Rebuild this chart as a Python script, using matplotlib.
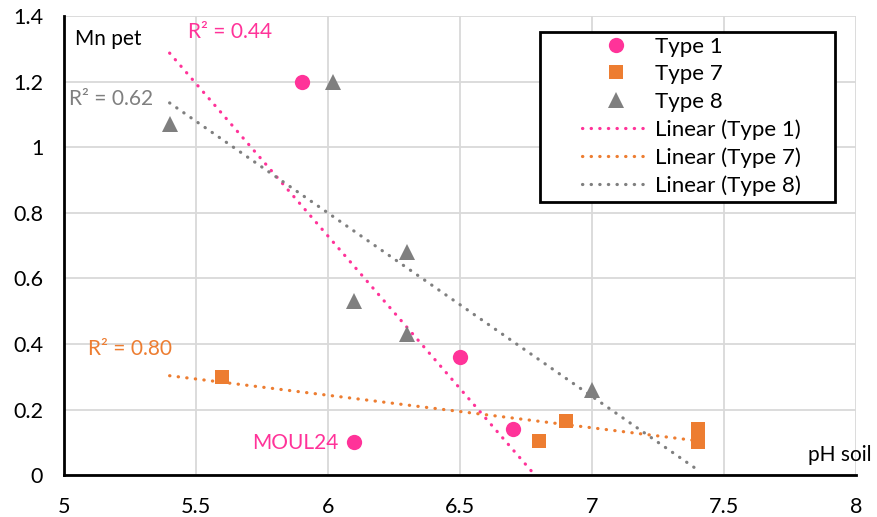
import numpy as np
import matplotlib
matplotlib.use("Agg")
import matplotlib.pyplot as plt
from matplotlib.lines import Line2D
from matplotlib.patches import Rectangle

plt.rcParams['font.family'] = ['Lato', 'DejaVu Sans']

# valeurs
type1_x = [5.9, 6.5, 6.7, 6.1]
type1_y = [1.2, 0.36, 0.14, 0.10]
type7_x = [5.6, 6.8, 6.9, 7.4, 7.4]
type7_y = [0.30, 0.105, 0.165, 0.141, 0.10]
type8_x = [5.4, 6.02, 6.3, 6.1, 6.3, 7.0]
type8_y = [1.07, 1.2, 0.68, 0.53, 0.43, 0.26]

x_ticks = [5, 5.5, 6, 6.5, 7, 7.5, 8]
y_ticks = [0, 0.2, 0.4, 0.6, 0.8, 1, 1.2, 1.4]

PINK = '#FF3399'
ORANGE = '#ED7D31'
GREY = '#7F7F7F'
DOTS = (0, (0.1, 2.6))

series = [
    ("Type 1", type1_x, type1_y, PINK, 'o', 11),
    ("Type 7", type7_x, type7_y, ORANGE, 's', 10.5),
    ("Type 8", type8_x, type8_y, GREY, '^', 12),
]

fig = plt.figure(figsize=(8.77, 5.17), dpi=100)
ax = fig.add_axes([0.073, 0.081, 0.903, 0.888])

all_x = type1_x + type7_x + type8_x
x_line = np.linspace(min(all_x), max(all_x), 100)

r2_vals = []
for name, xs, ys, col, mk, ms in series:
    xs = np.array(xs)
    ys = np.array(ys)
    a, b = np.polyfit(xs, ys, 1)
    pred = a * xs + b
    r2 = 1 - np.sum((ys - pred) ** 2) / np.sum((ys - ys.mean()) ** 2)
    r2_vals.append(r2)
    ax.plot(x_line, a * x_line + b, color=col, lw=2.3,
            linestyle=DOTS, dash_capstyle='round', zorder=2)
    ax.plot(xs, ys, linestyle='none', marker=mk, markersize=ms,
            color=col, markeredgewidth=0, zorder=3)

ax.set_xlim(5, 8)
ax.set_ylim(0, 1.4)
ax.set_xticks(x_ticks)
ax.set_xticklabels([f"{t:g}" for t in x_ticks])
ax.set_yticks(y_ticks)
ax.set_yticklabels([f"{t:g}" for t in y_ticks])
ax.grid(True, color='#D9D9D9', lw=1.3)
ax.set_axisbelow(True)
for s in ['top', 'right']:
    ax.spines[s].set_visible(False)
for s in ['left', 'bottom']:
    ax.spines[s].set_linewidth(2)
    ax.spines[s].set_color('black')
ax.tick_params(length=0, labelsize=15.5)
ax.tick_params(axis='y', pad=15)
ax.tick_params(axis='x', pad=15.5)

fs = 15
ax.text(5.47, 1.35, f"R² = {r2_vals[0]:.2f}", color=PINK, fontsize=fs, va='center')
ax.text(5.02, 1.147, f"R² = {r2_vals[2]:.2f}", color=GREY, fontsize=fs, va='center')
ax.text(5.09, 0.385, f"R² = {r2_vals[1]:.2f}", color=ORANGE, fontsize=fs, va='center')
ax.text(6.04, 0.098, "MOUL24", color=PINK, fontsize=fs, va='center', ha='right')
ax.text(5.04, 1.33, "Mn pet", color='black', fontsize=fs, va='center')
ax.text(7.82, 0.06, "pH soil", color='black', fontsize=fs, va='center', clip_on=False)

handles = [
    Line2D([], [], linestyle='none', marker='o', markersize=11, color=PINK, markeredgewidth=0),
    Line2D([], [], linestyle='none', marker='s', markersize=10.5, color=ORANGE, markeredgewidth=0),
    Line2D([], [], linestyle='none', marker='^', markersize=12, color=GREY, markeredgewidth=0),
    Line2D([], [], color=PINK, lw=2.3, linestyle=DOTS, dash_capstyle='round'),
    Line2D([], [], color=ORANGE, lw=2.3, linestyle=DOTS, dash_capstyle='round'),
    Line2D([], [], color=GREY, lw=2.3, linestyle=DOTS, dash_capstyle='round'),
]
labels = ["Type 1", "Type 7", "Type 8", "Linear (Type 1)", "Linear (Type 7)", "Linear (Type 8)"]
ax.legend(handles, labels, loc='upper left', bbox_to_anchor=(0.654, 0.955),
          fontsize=16, frameon=False, handlelength=3.1, handletextpad=0.2,
          labelspacing=0.34, borderpad=0, borderaxespad=0)
ax.add_patch(Rectangle((0.601, 0.595), 0.372, 0.37, transform=ax.transAxes,
                       facecolor='white', edgecolor='black', lw=2, zorder=4))
ax.get_legend().set_zorder(5)

fig.savefig("out.png", dpi=100)
